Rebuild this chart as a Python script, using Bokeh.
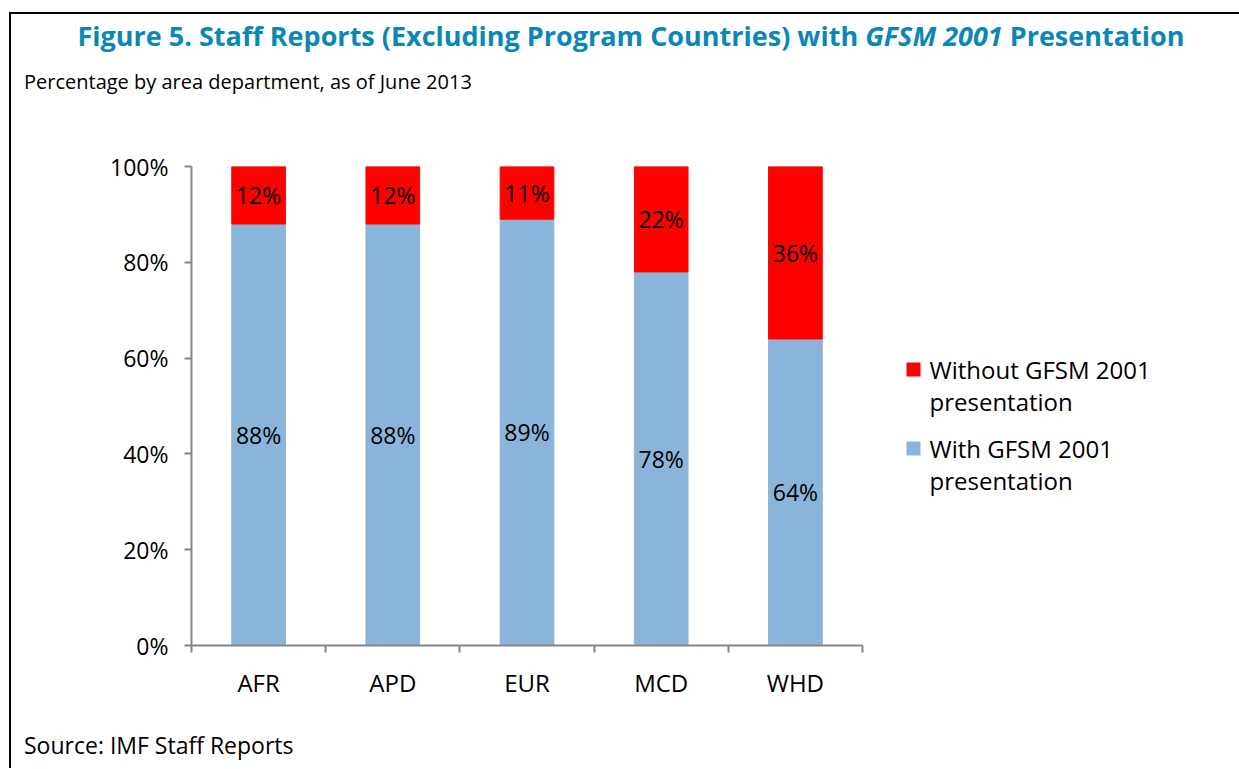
from bokeh.plotting import figure
from bokeh.layouts import column
from bokeh.models import (Range1d, FixedTicker, ColumnDataSource, Label, LabelSet,
                          BoxAnnotation, PrintfTickFormatter, Div)
from bokeh.core.properties import value
from bokeh.embed import file_html
from bokeh.resources import INLINE

# ---- data ----
categories = ["AFR", "APD", "EUR", "MCD", "WHD"]
with_gfsm = [88, 88, 89, 78, 64]
without_gfsm = [12, 12, 11, 22, 36]
y_ticks = [0, 20, 40, 60, 80, 100]
series_names = ["Without GFSM 2001", "With GFSM 2001"]
series_colors = ["#FF0000", "#8BB4DA"]

title_html = ("Figure 5. Staff Reports (Excluding Program Countries) with "
              "<i>GFSM 2001</i> Presentation")
subtitle = "Percentage by area department, as of June 2013"
source_note = "Source: IMF Staff Reports"

FONT = "Open Sans"
TFONT = "Open Sans"
TCOL = "#0B87B5"

# ---- layout constants (pixels) ----
COL_W = 1228
HEAD_H = 100
FIG_H = 600
FOOT_H = 54
FRAME_LEFT = 180
FRAME_RIGHT_PAD = 10
FRAME_TOP = 52
FRAME_BOTTOM = 531
CAT_PX = 671.0  # pixel width of the five categories

xs = list(range(len(categories)))
tops = [a + b for a, b in zip(with_gfsm, without_gfsm)]
src = ColumnDataSource(dict(
    x=xs, cat=categories, w=with_gfsm, wo=without_gfsm, top=tops,
    w_mid=[v / 2 for v in with_gfsm],
    wo_mid=[a + b / 2 for a, b in zip(with_gfsm, without_gfsm)],
    w_lab=[f"{v}%" for v in with_gfsm],
    wo_lab=[f"{v}%" for v in without_gfsm],
))

frame_w = COL_W - FRAME_LEFT - FRAME_RIGHT_PAD
x_end = -0.5 + len(categories) * frame_w / CAT_PX

p = figure(width=COL_W, height=FIG_H, output_backend="svg", toolbar_location=None,
           x_range=Range1d(-0.5, x_end), y_range=Range1d(0, 100),
           min_border_left=FRAME_LEFT, min_border_right=FRAME_RIGHT_PAD,
           min_border_top=FRAME_TOP, min_border_bottom=FIG_H - FRAME_BOTTOM,
           title=None, margin=0)
p.outline_line_color = None
p.xgrid.visible = False
p.ygrid.visible = False
p.background_fill_color = "white"
p.border_fill_color = "white"

p.vbar(x="x", bottom=0, top="w", width=0.4, color=series_colors[1], source=src)
p.vbar(x="x", bottom="w", top="top", width=0.4, color=series_colors[0], source=src)

for ycol, tcol in (("w_mid", "w_lab"), ("wo_mid", "wo_lab")):
    p.add_layout(LabelSet(x="x", y=ycol, text=tcol, source=src, text_align="center",
                          text_baseline="middle", text_font=value(FONT),
                          text_font_size="23px", text_color="black"))

# axes
ax = p.xaxis[0]
ax.bounds = (-0.5, len(categories) - 0.5)
ax.ticker = FixedTicker(ticks=xs, minor_ticks=[i - 0.5 for i in range(len(categories) + 1)])
ax.major_label_overrides = {i: c for i, c in zip(xs, categories)}
ax.major_tick_line_color = None
ax.major_tick_out = 6
ax.major_tick_in = 0
ax.minor_tick_line_color = "#868686"
ax.minor_tick_line_width = 2
ax.minor_tick_out = 7
ax.minor_tick_in = 0
ax.axis_line_color = "#868686"
ax.axis_line_width = 2
ax.major_label_text_font = FONT
ax.major_label_text_font_size = "24px"
ax.major_label_text_color = "black"
ax.major_label_standoff = 13

ay = p.yaxis[0]
ay.ticker = FixedTicker(ticks=y_ticks, minor_ticks=[])
ay.formatter = PrintfTickFormatter(format="%d%%")
ay.major_tick_line_color = "#868686"
ay.major_tick_line_width = 2
ay.major_tick_out = 7
ay.major_tick_in = 0
ay.minor_tick_line_color = None
ay.axis_line_color = "#868686"
ay.axis_line_width = 2
ay.major_label_text_font = FONT
ay.major_label_text_font_size = "23px"
ay.major_label_text_color = "black"
ay.major_label_standoff = 16


def scr(rx, ry):
    # reference pixel -> screen units relative to frame bottom-left
    return rx - 191, 645 - ry


# legend (custom, two-line labels), inside the frame
legend_rows = [(369, series_names[0], series_colors[0]), (448, series_names[1], series_colors[1])]
for cy, name, col in legend_rows:
    l, b = scr(906, cy + 7)
    r, t = scr(920, cy - 7)
    p.add_layout(BoxAnnotation(left=l, right=r, bottom=b, top=t, left_units="screen",
                               right_units="screen", top_units="screen", bottom_units="screen",
                               fill_color=col, fill_alpha=1, line_color=None))
    tx, ty = scr(929, cy)
    p.add_layout(Label(x=tx, y=ty, x_units="screen", y_units="screen", text=name,
                       text_align="left", text_baseline="middle", text_font=FONT,
                       text_font_size="24px", text_color="black"))
    tx, ty = scr(929, cy + 32)
    p.add_layout(Label(x=tx, y=ty, x_units="screen", y_units="screen", text="presentation",
                       text_align="left", text_baseline="middle", text_font=FONT,
                       text_font_size="24px", text_color="black"))

header = Div(width=COL_W, height=HEAD_H, margin=0, text=(
    f'<div style="box-sizing:border-box;width:{COL_W}px;font-family:\'{TFONT}\';font-weight:bold;'
    f'font-size:27px;color:{TCOL};text-align:center;padding-left:12px;line-height:32px;'
    f'margin-top:6px;white-space:nowrap;">{title_html}</div>'
    f'<div style="font-family:\'{FONT}\';font-size:20px;line-height:26px;margin-top:17px;'
    f'margin-left:13px;color:black;white-space:nowrap;">{subtitle}</div>'))

footer = Div(width=COL_W, height=FOOT_H, margin=0, text=(
    f'<div style="font-family:\'{FONT}\';font-size:23px;line-height:30px;margin-top:16px;'
    f'margin-left:13px;color:black;white-space:nowrap;">{source_note}</div>'))

layout = column(header, p, footer, spacing=0,
                styles={"margin-left": "9px", "margin-top": "12px",
                        "border-left": "2px solid black", "border-top": "2px solid black"})

open("out.html", "w").write(file_html(layout, INLINE))
